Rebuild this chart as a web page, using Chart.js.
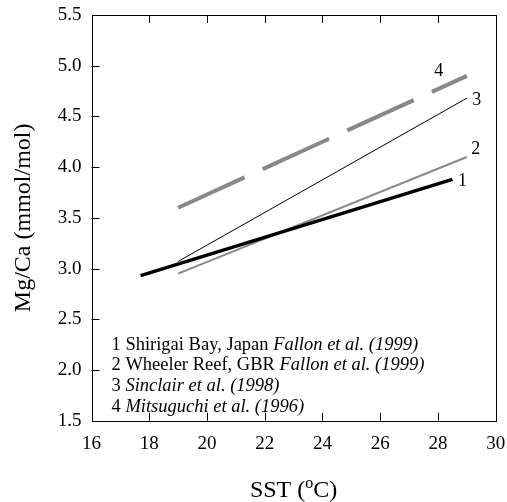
<!DOCTYPE html>
<html>
<head>
<meta charset="utf-8">
<script src="https://cdn.jsdelivr.net/npm/chart.js@4"></script>
<style>
html,body{margin:0;padding:0;background:#fff;}
#wrap{width:507px;height:502px;}
</style>
</head>
<body>
<div id="wrap"><canvas id="c" width="507" height="502"></canvas></div>
<script>
// ---- data ----
const seriesNames = ["1", "2", "3", "4"];
const line1X = [17.7, 28.5], line1Y = [2.93, 3.88];
const line2X = [19, 29],     line2Y = [2.95, 4.10];
const line3X = [19, 29],     line3Y = [3.07, 4.68];
const line4X = [19, 29],     line4Y = [3.60, 4.90];
const xTicks = [16, 18, 20, 22, 24, 26, 28, 30];
const yTicks = [1.5, 2.0, 2.5, 3.0, 3.5, 4.0, 4.5, 5.0, 5.5];
const legendLines = [
  [["1 Shirigai Bay, Japan ", false], ["Fallon et al. (1999)", true]],
  [["2 Wheeler Reef, GBR ", false], ["Fallon et al. (1999)", true]],
  [["3 ", false], ["Sinclair et al. (1998)", true]],
  [["4 ", false], ["Mitsuguchi et al. (1996)", true]]
];
const xTitle = ["SST (", "o", "C)"];
const yTitle = "Mg/Ca (mmol/mol)";

const SERIF = '"Liberation Serif", "DejaVu Serif", serif';
const GRAY = '#888888';

function pts(xs, ys) { return xs.map((x, i) => ({x: x, y: ys[i]})); }

const labelOffsets = [[10, 2], [9, -8], [10, 2], [-28, -5]];

const decoPlugin = {
  id: 'deco',
  afterDraw(chart) {
    const ctx = chart.ctx;
    const a = chart.chartArea;
    const xs = chart.scales.x, ys = chart.scales.y;
    ctx.save();
    // frame
    ctx.strokeStyle = '#000';
    ctx.lineWidth = 1;
    ctx.strokeRect(Math.round(a.left) + 0.5, Math.round(a.top) + 0.5,
                   Math.round(a.right - a.left), Math.round(a.bottom - a.top));
    // inward ticks
    ctx.beginPath();
    xTicks.forEach(v => {
      if (v === xTicks[0] || v === xTicks[xTicks.length - 1]) return;
      const px = Math.round(xs.getPixelForValue(v)) + 0.5;
      ctx.moveTo(px, a.bottom); ctx.lineTo(px, a.bottom - 8);
      ctx.moveTo(px, a.top); ctx.lineTo(px, a.top + 8);
    });
    yTicks.forEach(v => {
      if (v === yTicks[0] || v === yTicks[yTicks.length - 1]) return;
      const py = Math.round(ys.getPixelForValue(v)) + 0.5;
      ctx.moveTo(a.left, py); ctx.lineTo(a.left + 8, py);
    });
    ctx.stroke();

    // series number labels
    ctx.fillStyle = '#000';
    ctx.font = '18px ' + SERIF;
    ctx.textAlign = 'center';
    ctx.textBaseline = 'middle';
    chart.data.datasets.forEach((ds, i) => {
      const last = ds.data[ds.data.length - 1];
      const px = xs.getPixelForValue(last.x) + labelOffsets[i][0];
      const py = ys.getPixelForValue(last.y) + labelOffsets[i][1];
      ctx.fillText(seriesNames[i], px, py);
    });

    // legend text block
    ctx.textAlign = 'left';
    ctx.textBaseline = 'alphabetic';
    legendLines.forEach((parts, i) => {
      let x = a.left + 20;
      const y = a.bottom - 9 - 20.7 * (legendLines.length - 1 - i);
      parts.forEach(p => {
        ctx.font = (p[1] ? 'italic ' : '') + '18.5px ' + SERIF;
        ctx.fillText(p[0], x, y);
        x += ctx.measureText(p[0]).width;
      });
    });

    // x title with superscript
    ctx.font = '24px ' + SERIF;
    const w0 = ctx.measureText(xTitle[0]).width;
    const w2 = ctx.measureText(xTitle[2]).width;
    ctx.font = '16px ' + SERIF;
    const w1 = ctx.measureText(xTitle[1]).width;
    const total = w0 + w1 + w2;
    let tx = (a.left + a.right) / 2 - total / 2;
    const ty = 497;
    ctx.font = '24px ' + SERIF;
    ctx.fillText(xTitle[0], tx, ty); tx += w0;
    ctx.font = '16px ' + SERIF;
    ctx.fillText(xTitle[1], tx, ty - 9); tx += w1;
    ctx.font = '24px ' + SERIF;
    ctx.fillText(xTitle[2], tx, ty);

    // y title
    ctx.translate(24, (a.top + a.bottom) / 2);
    ctx.rotate(-Math.PI / 2);
    ctx.textAlign = 'center';
    ctx.textBaseline = 'middle';
    ctx.font = '24px ' + SERIF;
    ctx.fillText(yTitle, 0, 0);
    ctx.restore();
  }
};

new Chart(document.getElementById('c'), {
  type: 'line',
  data: {
    datasets: [
      {data: pts(line1X, line1Y), borderColor: '#000', borderWidth: 3.5, pointRadius: 0, borderCapStyle: 'butt'},
      {data: pts(line2X, line2Y), borderColor: GRAY, borderWidth: 2, pointRadius: 0},
      {data: pts(line3X, line3Y), borderColor: '#000', borderWidth: 1, pointRadius: 0},
      {data: pts(line4X, line4Y), borderColor: GRAY, borderWidth: 4, pointRadius: 0, borderDash: [73, 20], borderCapStyle: 'butt'}
    ]
  },
  options: {
    responsive: false,
    animation: false,
    layout: {padding: {top: 15, right: 11.3, left: 0, bottom: 0}},
    plugins: {legend: {display: false}, tooltip: {enabled: false}},
    scales: {
      x: {
        type: 'linear', min: 16, max: 30,
        afterFit: s => { s.height = 81.3; s.paddingLeft = 0; s.paddingRight = 0; },
        afterBuildTicks: s => { s.ticks = xTicks.map(v => ({value: v})); },
        grid: {display: false, drawTicks: false},
        border: {display: false},
        ticks: {color: '#000', padding: 12, font: {family: SERIF, size: 19}, maxRotation: 0,
                callback: v => String(v)}
      },
      y: {
        type: 'linear', min: 1.5, max: 5.5,
        afterFit: s => { s.width = 91.5; s.paddingTop = 0; s.paddingBottom = 0; },
        afterBuildTicks: s => { s.ticks = yTicks.map(v => ({value: v})); },
        grid: {display: false, drawTicks: false},
        border: {display: false},
        ticks: {color: '#000', padding: 10, font: {family: SERIF, size: 19},
                callback: v => Number(v).toFixed(1)}
      }
    }
  },
  plugins: [decoPlugin]
});
</script>
</body>
</html>
